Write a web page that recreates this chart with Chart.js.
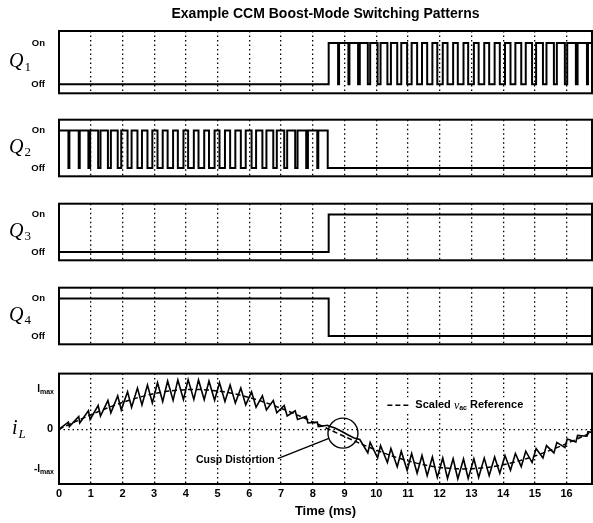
<!DOCTYPE html>
<html>
<head>
<meta charset="utf-8">
<script src="https://cdn.jsdelivr.net/npm/chart.js@4.4.0/dist/chart.umd.min.js"></script>
<style>
  html, body { margin: 0; padding: 0; background: #fff; }
  #wrap { position: relative; width: 593px; height: 523px; overflow: hidden; background: #fff; }
  #wrap canvas { position: absolute; left: 0; }
</style>
</head>
<body>
<div id="wrap">
  <canvas id="q1" width="593" height="105" style="top:0px"></canvas>
  <canvas id="q2" width="593" height="80" style="top:108px"></canvas>
  <canvas id="q3" width="593" height="80" style="top:192px"></canvas>
  <canvas id="q4" width="593" height="80" style="top:276px"></canvas>
  <canvas id="il" width="593" height="163" style="top:361px"></canvas>
</div>
<script>
// time axis (ms)
const timeTicks = [0, 1, 2, 3, 4, 5, 6, 7, 8, 9, 10, 11, 12, 13, 14, 15, 16]
const timeEnd = 16.8

const stateTicks = [0, 1]
const stateLabels = ['Off', 'On']

// switch states: starting level, then every toggle time (ms)
const q1Start = 0
const q1Edges = [8.5, 8.797, 8.827, 9.122, 9.154, 9.427, 9.481, 9.734, 9.808, 10.042, 10.135,
  10.351, 10.462, 10.661, 10.788, 10.973, 11.115, 11.288, 11.442, 11.605, 11.769, 11.924, 12.096,
  12.246, 12.423, 12.570, 12.750, 12.897, 13.077, 13.227, 13.404, 13.559, 13.731, 13.894, 14.058,
  14.231, 14.385, 14.570, 14.712, 14.911, 15.038, 15.254, 15.365, 15.599, 15.692, 15.945, 16.019,
  16.292, 16.346, 16.641, 16.673]

const q2Start = 1
const q2Edges = [0.297, 0.327, 0.622, 0.654, 0.927, 0.981, 1.234, 1.308, 1.542, 1.635, 1.851, 1.962,
  2.161, 2.288, 2.473, 2.615, 2.788, 2.942, 3.105, 3.269, 3.424, 3.596, 3.746, 3.923, 4.070, 4.250,
  4.397, 4.577, 4.727, 4.904, 5.059, 5.231, 5.394, 5.558, 5.731, 5.885, 6.070, 6.212, 6.411, 6.538,
  6.754, 6.865, 7.099, 7.192, 7.445, 7.519, 7.792, 7.846, 8.141, 8.173, 8.470]

const q3Start = 0
const q3Edges = [8.5]

const q4Start = 1
const q4Edges = [8.5]

// inductor current, in units of Imax
const ilTime = [0, 0.297, 0.327, 0.622, 0.654, 0.927, 0.981, 1.234, 1.308, 1.542, 1.635, 1.851, 1.962,
  2.161, 2.288, 2.473, 2.615, 2.788, 2.942, 3.105, 3.269, 3.424, 3.596, 3.746, 3.923, 4.070, 4.250,
  4.397, 4.577, 4.727, 4.904, 5.059, 5.231, 5.394, 5.558, 5.731, 5.885, 6.070, 6.212, 6.411, 6.538,
  6.754, 6.865, 7.099, 7.192, 7.445, 7.519, 7.792, 7.846, 8.141, 8.173, 8.470, 8.5,
  8.7, 8.9, 9.1, 9.3, 9.481,
  9.734, 9.808, 10.042, 10.135, 10.351, 10.462, 10.661, 10.788, 10.973, 11.115, 11.288, 11.442,
  11.605, 11.769, 11.924, 12.096, 12.246, 12.423, 12.570, 12.750, 12.897, 13.077, 13.227, 13.404,
  13.559, 13.731, 13.894, 14.058, 14.231, 14.385, 14.570, 14.712, 14.911, 15.038, 15.254, 15.365,
  15.599, 15.692, 15.945, 16.019, 16.292, 16.346, 16.641, 16.673, 16.8]
const ilValue = [0, 0.177, 0.064, 0.322, 0.157, 0.463, 0.247, 0.597, 0.333, 0.723, 0.413, 0.839, 0.487,
  0.944, 0.554, 1.034, 0.612, 1.111, 0.661, 1.171, 0.699, 1.215, 0.727, 1.241, 0.745, 1.25, 0.75,
  1.241, 0.745, 1.215, 0.727, 1.171, 0.699, 1.111, 0.661, 1.034, 0.612, 0.944, 0.554, 0.839, 0.487,
  0.723, 0.413, 0.597, 0.333, 0.463, 0.247, 0.322, 0.157, 0.177, 0.064, 0.10, 0.08,
  0.03, -0.05, -0.14, -0.22, -0.26,
  -0.597, -0.333, -0.723, -0.413, -0.839, -0.487, -0.944, -0.554, -1.034, -0.612, -1.111, -0.661,
  -1.171, -0.699, -1.215, -0.727, -1.241, -0.745, -1.25, -0.75, -1.241, -0.745, -1.215, -0.727,
  -1.171, -0.699, -1.111, -0.661, -1.034, -0.612, -0.944, -0.554, -0.839, -0.487, -0.723, -0.413,
  -0.597, -0.333, -0.463, -0.247, -0.322, -0.157, -0.177, -0.064, -0.08]

// scaled vac reference
const refTime = [0, 0.5, 1, 1.5, 2, 2.5, 3, 3.5, 4, 4.5, 5, 5.5, 6, 6.5, 7, 7.5, 8, 8.5,
  9, 9.5, 10, 10.5, 11, 11.5, 12, 12.5, 13, 13.5, 14, 14.5, 15, 15.5, 16, 16.5, 16.8]
const refValue = [0, 0.184, 0.362, 0.526, 0.674, 0.798, 0.895, 0.962, 0.996, 0.996, 0.962, 0.895,
  0.798, 0.674, 0.526, 0.362, 0.184, 0, -0.184, -0.362, -0.526, -0.674, -0.798, -0.895, -0.962,
  -0.996, -0.996, -0.962, -0.895, -0.798, -0.674, -0.526, -0.362, -0.184, -0.074]

const currentTicks = [-1, 0, 1]

const SANS = '"Liberation Sans", Arial, sans-serif'
const SERIF = '"Liberation Serif", "Times New Roman", serif'

const stepPoints = (start, edges) => {
  let s = start
  const pts = [{ x: 0, y: s }]
  edges.forEach(e => {
    pts.push({ x: e, y: s })
    s = 1 - s
    pts.push({ x: e, y: s })
  })
  pts.push({ x: timeEnd, y: s })
  return pts
}

// frame + italic name with subscript on the left
const panelDecor = {
  id: 'panelDecor',
  afterDraw(chart, args, opts) {
    const { ctx, chartArea: a } = chart
    ctx.save()
    ctx.strokeStyle = '#000'
    ctx.lineWidth = 2
    ctx.strokeRect(a.left, a.top, a.right - a.left, a.bottom - a.top)

    const cy = opts.at !== undefined ? chart.scales.y.getPixelForValue(opts.at) : (a.top + a.bottom) / 2
    ctx.fillStyle = '#000'
    ctx.textBaseline = 'middle'
    ctx.textAlign = 'left'
    ctx.font = 'italic 20px ' + SERIF
    ctx.fillText(opts.name, opts.x, cy)
    const w = ctx.measureText(opts.name).width
    ctx.font = (opts.subItalic ? 'italic ' : '') + '13px ' + SERIF
    ctx.fillText(opts.sub, opts.x + w + 1, cy + 5)
    ctx.restore()
  }
}

// Imax labels, legend and the cusp note for the current panel
const currentDecor = {
  id: 'currentDecor',
  afterDraw(chart, args, opts) {
    const { ctx } = chart
    const xs = chart.scales.x
    const ys = chart.scales.y
    ctx.save()
    ctx.fillStyle = '#000'
    ctx.strokeStyle = '#000'
    ctx.textBaseline = 'middle'

    // I_max / -I_max
    ;[[1, 'I'], [-1, '-I']].forEach(([v, t]) => {
      const y = ys.getPixelForValue(v)
      ctx.font = 'bold 10px ' + SANS
      const w1 = ctx.measureText(t).width
      ctx.font = 'bold 7px ' + SANS
      const w2 = ctx.measureText('max').width
      const x0 = 54 - w1 - w2
      ctx.font = 'bold 10px ' + SANS
      ctx.textAlign = 'left'
      ctx.fillText(t, x0, y)
      ctx.font = 'bold 7px ' + SANS
      ctx.fillText('max', x0 + w1, y + 3)
    })

    // legend
    const lx = xs.getPixelForValue(opts.legendAt[0])
    const ly = ys.getPixelForValue(opts.legendAt[1])
    ctx.font = 'bold 11px ' + SANS
    const p1 = 'Scaled '
    const p3 = ' Reference'
    const wp1 = ctx.measureText(p1).width
    const wp3 = ctx.measureText(p3).width
    ctx.font = 'italic 12px ' + SERIF
    const wv = ctx.measureText('v').width
    ctx.font = 'bold 7px ' + SANS
    const wac = ctx.measureText('ac').width
    const total = 28 + wp1 + wv + wac + wp3
    ctx.fillStyle = '#fff'
    ctx.fillRect(lx - 3, ly - 8, total + 6, 16)
    ctx.fillStyle = '#000'
    ctx.lineWidth = 1.5
    ctx.setLineDash([5, 3])
    ctx.beginPath()
    ctx.moveTo(lx, ly)
    ctx.lineTo(lx + 23, ly)
    ctx.stroke()
    ctx.setLineDash([])
    let tx = lx + 28
    ctx.textAlign = 'left'
    ctx.font = 'bold 11px ' + SANS
    ctx.fillText(p1, tx, ly)
    tx += wp1
    ctx.font = 'italic 12px ' + SERIF
    ctx.fillText('v', tx, ly)
    tx += wv
    ctx.font = 'bold 7px ' + SANS
    ctx.fillText('ac', tx, ly + 3)
    tx += wac
    ctx.font = 'bold 11px ' + SANS
    ctx.fillText(p3, tx, ly)

    // cusp circle + pointer
    const cx = xs.getPixelForValue(opts.circleAt[0])
    const cy = ys.getPixelForValue(opts.circleAt[1])
    const r = 15
    ctx.lineWidth = 1.4
    ctx.beginPath()
    ctx.arc(cx, cy, r, 0, Math.PI * 2)
    ctx.stroke()
    const sx = xs.getPixelForValue(opts.noteAt[0])
    const sy = ys.getPixelForValue(opts.noteAt[1])
    const d = Math.hypot(cx - sx, cy - sy)
    ctx.beginPath()
    ctx.moveTo(sx + 3, sy)
    ctx.lineTo(cx - r * (cx - sx) / d, cy - r * (cy - sy) / d)
    ctx.stroke()
    ctx.font = 'bold 10.5px ' + SANS
    ctx.textAlign = 'right'
    ctx.fillText('Cusp Distortion', sx, sy + 2)
    ctx.restore()
  }
}

const xScale = (showLabels) => ({
  type: 'linear',
  min: 0,
  max: timeEnd,
  afterBuildTicks: s => { s.ticks = timeTicks.map(v => ({ value: v })) },
  afterFit: s => { s.height = showLabels ? 40 : 0 },
  grid: { color: '#000', lineWidth: 1.3, drawTicks: false },
  border: { display: false, dash: [1.5, 3] },
  ticks: {
    display: showLabels,
    autoSkip: false,
    maxRotation: 0,
    padding: 3,
    color: '#000',
    font: { family: SANS, size: 11, weight: 'bold' }
  },
  title: {
    display: showLabels,
    text: 'Time (ms)',
    color: '#000',
    font: { family: SANS, size: 13, weight: 'bold' },
    padding: { top: 0, bottom: 5 }
  }
})

const signalChart = (id, start, edges, sub, withTitle) => new Chart(document.getElementById(id), {
  type: 'line',
  data: {
    datasets: [{
      data: stepPoints(start, edges),
      borderColor: '#000',
      borderWidth: 2,
      pointRadius: 0,
      tension: 0
    }]
  },
  options: {
    responsive: false,
    animation: false,
    events: [],
    layout: { padding: { top: withTitle ? 0 : 6, bottom: 6, left: 0, right: 1 } },
    plugins: {
      legend: { display: false },
      tooltip: { enabled: false },
      title: {
        display: withTitle,
        text: 'Example CCM Boost-Mode Switching Patterns',
        fullSize: false,
        color: '#000',
        font: { family: SANS, size: 14, weight: 'bold' },
        padding: { top: 6, bottom: 8.2 }
      },
      panelDecor: { name: 'Q', sub: sub, x: 9 }
    },
    scales: {
      x: xScale(false),
      y: {
        type: 'linear',
        min: -0.22,
        max: 1.29,
        afterBuildTicks: s => { s.ticks = stateTicks.map(v => ({ value: v })) },
        afterFit: s => { s.width = 59 },
        grid: { display: false },
        border: { display: false },
        ticks: {
          callback: v => stateLabels[stateTicks.indexOf(v)],
          padding: 6,
          color: '#000',
          font: { family: SANS, size: 9.5, weight: 'bold' }
        }
      }
    }
  },
  plugins: [panelDecor]
})

signalChart('q1', q1Start, q1Edges, '1', true)
signalChart('q2', q2Start, q2Edges, '2', false)
signalChart('q3', q3Start, q3Edges, '3', false)
signalChart('q4', q4Start, q4Edges, '4', false)

new Chart(document.getElementById('il'), {
  type: 'line',
  data: {
    datasets: [
      {
        label: 'iL',
        data: ilTime.map((t, i) => ({ x: t, y: ilValue[i] })),
        borderColor: '#000',
        borderWidth: 1.6,
        pointRadius: 0,
        tension: 0
      },
      {
        label: 'Scaled vac Reference',
        data: refTime.map((t, i) => ({ x: t, y: refValue[i] })),
        borderColor: '#000',
        borderWidth: 1.5,
        borderDash: [5, 3],
        pointRadius: 0,
        tension: 0.3
      }
    ]
  },
  options: {
    responsive: false,
    animation: false,
    events: [],
    layout: { padding: { top: 6, bottom: 0, left: 0, right: 1 } },
    plugins: {
      legend: { display: false },
      tooltip: { enabled: false },
      panelDecor: { name: 'i', sub: 'L', subItalic: true, x: 12, at: 0 },
      currentDecor: { legendAt: [10.35, 0.6], circleAt: [8.95, -0.1], noteAt: [6.8, -0.74] }
    },
    scales: {
      x: xScale(true),
      y: {
        type: 'linear',
        min: -1.38,
        max: 1.4,
        afterBuildTicks: s => { s.ticks = currentTicks.map(v => ({ value: v })) },
        afterFit: s => { s.width = 59 },
        grid: {
          color: c => (c.tick && c.tick.value === 0) ? '#000' : 'rgba(0,0,0,0)',
          lineWidth: 1.3,
          drawTicks: false
        },
        border: { display: false, dash: [1.5, 3] },
        ticks: {
          callback: v => v === 0 ? '0' : '',
          padding: 6,
          color: '#000',
          font: { family: SANS, size: 11, weight: 'bold' }
        }
      }
    }
  },
  plugins: [panelDecor, currentDecor]
})
</script>
</body>
</html>
